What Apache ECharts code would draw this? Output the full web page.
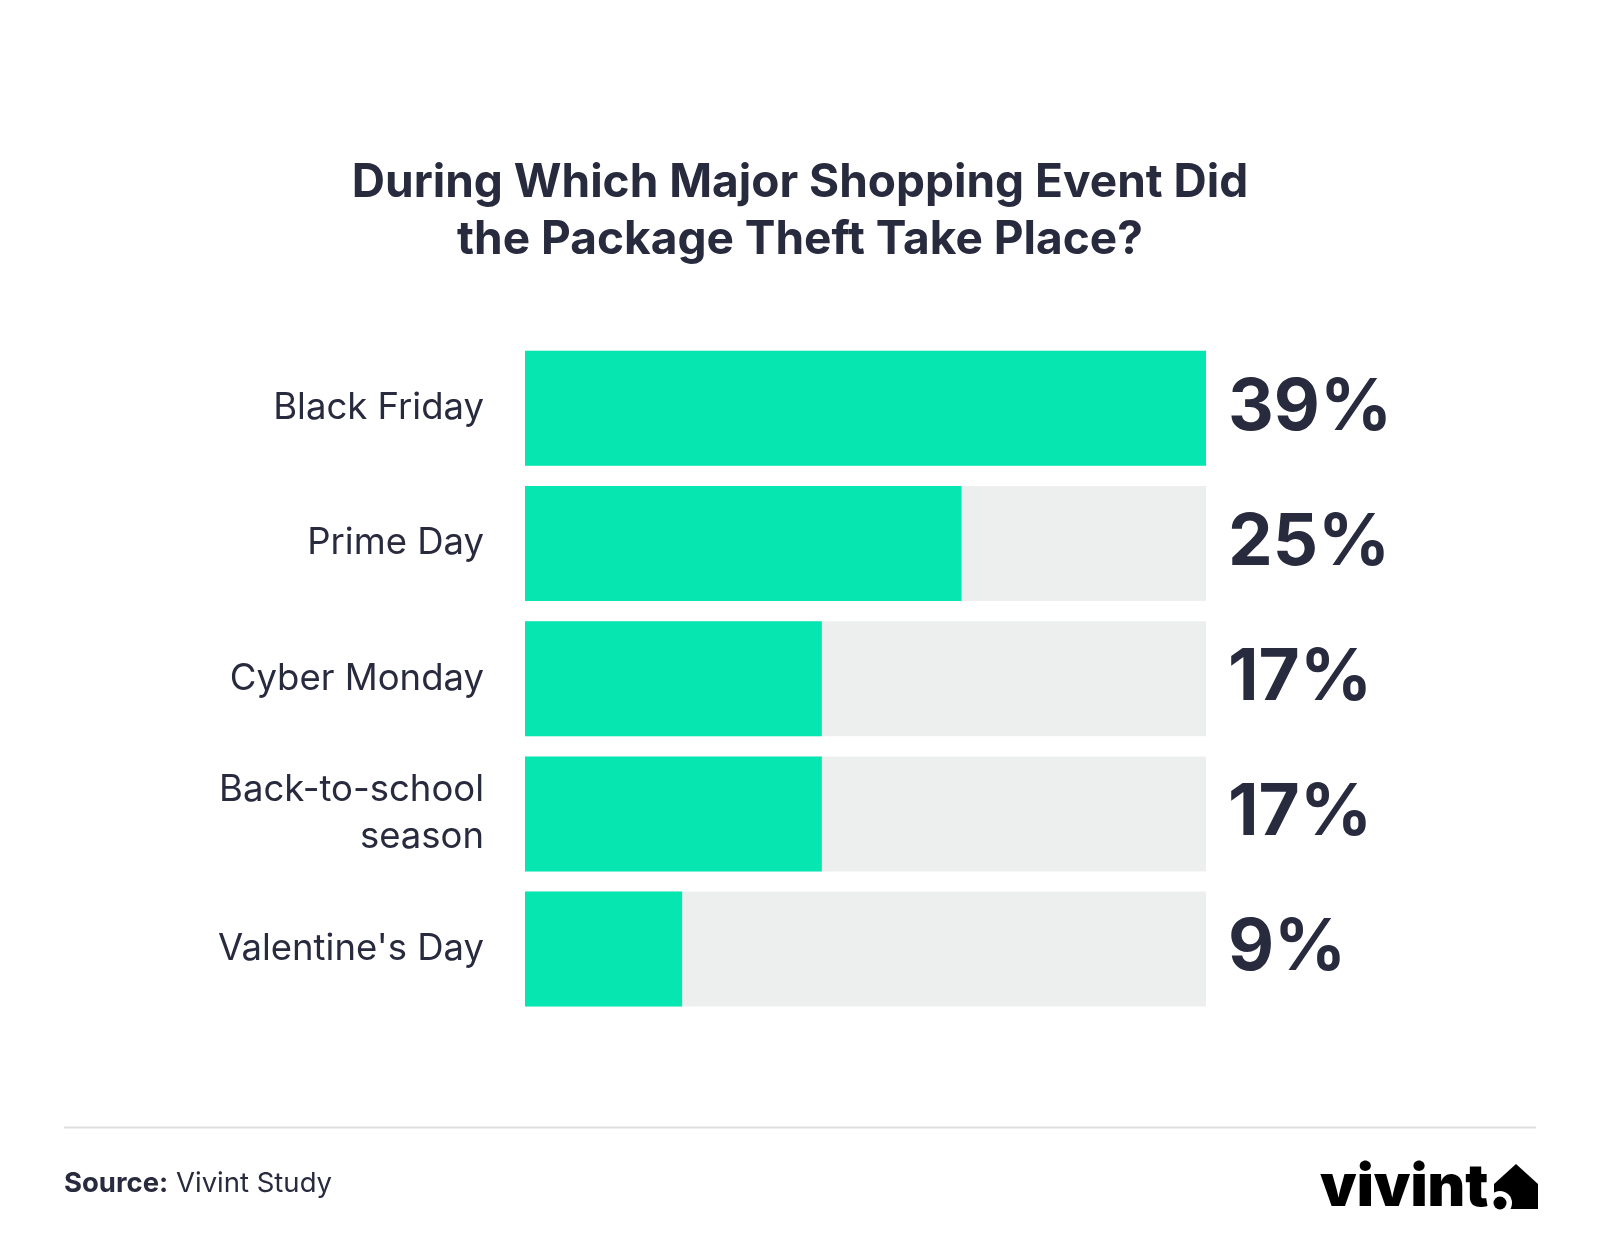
<!DOCTYPE html>
<html>
<head>
<meta charset="utf-8">
<script src="https://cdn.jsdelivr.net/npm/echarts@6/dist/echarts.min.js"></script>
<style>html,body{margin:0;padding:0;background:#fff;}#c{width:1600px;height:1250px;}</style>
</head>
<body>
<div id="c"></div>
<script>
const titleLines = ['During Which Major Shopping Event Did', 'the Package Theft Take Place?'];
const categories = ['Black Friday', 'Prime Day', 'Cyber Monday', 'Back-to-school\nseason', "Valentine's Day"];
const values = [39, 25, 17, 17, 9];
const axisMax = 39;
const sourceLabel = 'Source:';
const sourceText = 'Vivint Study';
const brand = 'vivint';

const ink = '#282A3E';
const green = '#06E6B1';
const track = '#EDEFEE';

const chart = echarts.init(document.getElementById('c'), null, {renderer: 'canvas'});
chart.setOption({
  backgroundColor: '#ffffff',
  animation: false,
  title: {
    text: titleLines.join('\n'),
    left: 'center',
    top: 150,
    textStyle: {fontFamily: 'Inter', fontWeight: 'bold', fontSize: 46, lineHeight: 57, color: ink}
  },
  grid: {left: 525, width: 681, top: 340.7, height: 676, containLabel: false},
  xAxis: {type: 'value', min: 0, max: axisMax, show: false},
  yAxis: {
    type: 'category', data: categories, inverse: true,
    axisLine: {show: false}, axisTick: {show: false}, splitLine: {show: false},
    axisLabel: {margin: 41, fontFamily: 'Inter', fontSize: 36.5, lineHeight: 47, color: ink, align: 'right'}
  },
  series: [
    {
      type: 'bar', data: values.map(() => axisMax), barWidth: 115, barGap: '-100%',
      itemStyle: {color: track}, silent: true,
      label: {
        show: true, position: 'right', distance: 22,
        formatter: p => values[p.dataIndex] + '%',
        fontFamily: 'Inter', fontWeight: 'bold', fontSize: 71, color: ink
      }
    },
    {
      type: 'bar', data: values, barWidth: 115, barGap: '-100%',
      itemStyle: {color: green}
    }
  ],
  graphic: [
    {type: 'line', shape: {x1: 64, y1: 1127.5, x2: 1536, y2: 1127.5}, style: {stroke: '#DDDEDE', lineWidth: 2}},
    {type: 'text', x: 64, y: 1184, style: {
      text: '{b|' + sourceLabel + '} ' + sourceText,
      rich: {b: {fontFamily: 'Inter', fontWeight: 'bold', fontSize: 27.5, fill: ink}},
      fontFamily: 'Inter', fontSize: 27.5, fill: ink, verticalAlign: 'middle'
    }},
    {type: 'text', x: 1320, y: 1189, style: {
      text: brand, fontFamily: 'Inter', fontWeight: 900, fontSize: 58, fill: '#000', verticalAlign: 'middle'
    }},
    {type: 'polygon', shape: {points: [[1494, 1184], [1516, 1164], [1538, 1184], [1538, 1209], [1494, 1209]]}, style: {fill: '#000'}},
    {type: 'circle', shape: {cx: 1500, cy: 1203, r: 12}, style: {fill: '#fff'}},
    {type: 'circle', shape: {cx: 1500, cy: 1203, r: 6.5}, style: {fill: '#000'}}
  ]
});
</script>
</body>
</html>
